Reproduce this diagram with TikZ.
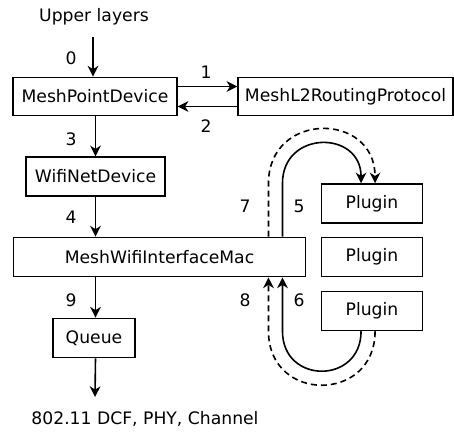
\documentclass[tikz,border=0pt]{standalone}
\usepackage{fontspec}
\setmainfont{DejaVu Sans}
\usetikzlibrary{arrows.meta,calc}
\begin{document}
\begin{tikzpicture}[x=0.75pt,y=-0.75pt,
  every node/.style={font=\fontsize{12.9}{14}\selectfont},
  box/.style={draw,line width=1.1pt,rectangle,inner sep=0pt},
  arr/.style={line width=1.2pt,-{Stealth[length=8pt,width=8pt,inset=2.5pt]}},
  darr/.style={arr,dash pattern=on 4.5pt off 3pt},
  lbl/.style={inner sep=0pt}]
\useasboundingbox (0,0) rectangle (454,432);
% boxes
\node[box,minimum width=164*0.75pt,minimum height=38.5*0.75pt] (mpd) at (95,96.5) {MeshPointDevice};
\node[box,minimum width=215*0.75pt,minimum height=38.5*0.75pt] (l2) at (345.5,96.5) {MeshL2RoutingProtocol};
\node[box,minimum width=139*0.75pt,minimum height=39*0.75pt] (wnd) at (95.5,176.5) {WifiNetDevice};
\node[box,minimum width=292.5*0.75pt,minimum height=39.5*0.75pt] (mwim) at (159.5,257) {MeshWifiInterfaceMac};
\node[box,minimum width=82*0.75pt,minimum height=39.5*0.75pt] (q) at (94,338) {Queue};
\node[box,minimum width=101*0.75pt,minimum height=39*0.75pt] (p1) at (372,203.5) {Plugin};
\node[box,minimum width=101*0.75pt,minimum height=39*0.75pt] (p2) at (372,257) {Plugin};
\node[box,minimum width=101*0.75pt,minimum height=39*0.75pt] (p3) at (372,311) {Plugin};
% texts
\node[lbl] (up) at (94,17) {Upper layers};
\node[lbl] (phy) at (145,419) {802.11 DCF, PHY, Channel};
\coordinate (upend) at (93,37);
\coordinate (qend) at (95,397);
% labels
\node[lbl] (n0) at (71,58) {0};
\node[lbl] (n1) at (206,72) {1};
\node[lbl] (n2) at (206,126) {2};
\node[lbl] (n3) at (71,139) {3};
\node[lbl] (n4) at (71,217) {4};
\node[lbl] (n9) at (71,300) {9};
\node[lbl] (n7) at (245,206) {7};
\node[lbl] (n5) at (299,206) {5};
\node[lbl] (n8) at (245,300) {8};
\node[lbl] (n6) at (299,300) {6};
% straight arrows
\draw[arr] (upend) -- (upend |- mpd.north);
\draw[arr] ($(mpd.east)+(0,-10)$) -- ($(l2.west)+(0,-10)$);
\draw[arr] ($(l2.west)+(0,10)$) -- ($(mpd.east)+(0,10)$);
\draw[arr] (wnd.north |- mpd.south) -- (wnd.north);
\draw[arr] (wnd.south) -- (wnd.south |- mwim.north);
\draw[arr] (wnd.south |- mwim.south) -- (wnd.south |- q.north);
\draw[arr] (wnd.south |- q.south) -- (qend);
% loops
\coordinate (s5) at ($(mwim.north east)+(-24,0)$);
\coordinate (s7) at ($(mwim.north east)+(-38,0)$);
\coordinate (s6) at ($(mwim.south east)+(-24,0)$);
\coordinate (s8) at ($(mwim.south east)+(-38,0)$);
\draw[arr] (s5) -- (s5 |- p1.north) .. controls +(0,-53.3) and +(0,-53.3) .. ($(p1.north west)+(40.3,0)$);
\draw[darr] (s7) -- (s7 |- p1.north) .. controls +(0,-72) and +(0,-72) .. ($(p1.north west)+(54.3,0)$);
\draw[arr] ($(p3.south west)+(40.3,0)$) .. controls +(0,53.3) and +(0,53.3) .. (s6 |- p3.south) -- (s6);
\draw[darr] ($(p3.south west)+(54.3,0)$) .. controls +(0,72) and +(0,72) .. (s8 |- p3.south) -- (s8);
\end{tikzpicture}
\end{document}
